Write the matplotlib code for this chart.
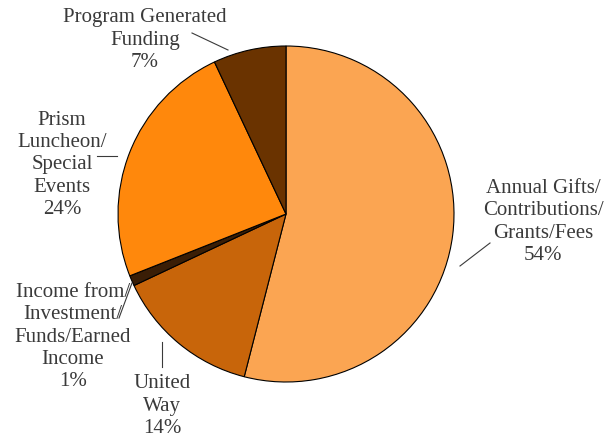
import matplotlib.pyplot as plt

labels = ['Annual Gifts/\nContributions/\nGrants/Fees', 'United\nWay',
          'Income from/\nInvestment/\nFunds/Earned\nIncome', 'Prism\nLuncheon/\nSpecial\nEvents',
          'Program Generated\nFunding']
values = [54, 14, 1, 24, 7]
colors = ['#FBA552', '#C8650A', '#3A1E06', '#FF880C', '#6A3300']

# label text centre and leader line (pixel coords, y from top)
label_pos = [(543, 222), (162, 406), (73, 337), (62, 165), (145, 40)]
leaders = [((460, 266), (490, 243)), ((162, 342), (162, 367)), ((132, 283), (119, 318)),
           ((97, 156), (117, 156)), ((192, 33), (228, 50))]

W, H = 615, 438
fig = plt.figure(figsize=(W / 100, H / 100), dpi=100)
ax = fig.add_axes([0, 0, 1, 1])

ax.pie(values, colors=colors, startangle=90, counterclock=False,
       center=(286, H - 214), radius=168,
       wedgeprops=dict(edgecolor='black', linewidth=0.8), frame=True)
ax.set_xlim(0, W)
ax.set_ylim(0, H)
ax.set_aspect('equal')
ax.axis('off')

for lab, v, (x, y) in zip(labels, values, label_pos):
    ax.text(x, H - y, f'{lab}\n{v}%', ha='center', va='center', fontsize=15,
            family='Liberation Serif', color='#3a3a3a', linespacing=1.24)

for (x0, y0), (x1, y1) in leaders:
    ax.plot([x0, x1], [H - y0, H - y1], color='#3a3a3a', lw=0.8)

fig.savefig('out.png', dpi=100)
